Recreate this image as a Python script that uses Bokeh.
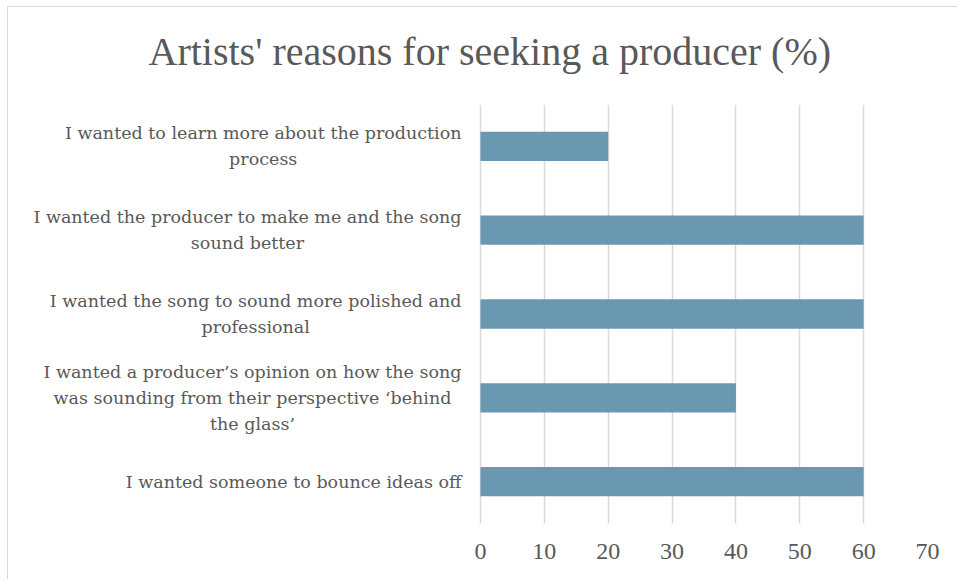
from bokeh.plotting import figure
from bokeh.models import FactorRange, ColumnDataSource, FixedTicker, Range1d, Title
from bokeh.core.properties import value
from bokeh.embed import file_html
from bokeh.resources import INLINE

reasons = [
    "I wanted to learn more about the production\nprocess",
    "I wanted the producer to make me and the song\nsound better",
    "I wanted the song to sound more polished and\nprofessional",
    "I wanted a producer\u2019s opinion on how the song\nwas sounding from their perspective \u2018behind\nthe glass\u2019",
    "I wanted someone to bounce ideas off",
]
percent = [20, 60, 60, 40, 60]
x_ticks = [0, 10, 20, 30, 40, 50, 60, 70]

TEXT = "#595959"
FONT = "DejaVu Serif"

# layout (pixels)
W, H = 950, 573
LABEL_W = 472          # space left of the value 0 used by category labels
RIGHT = 31
BAR_W = W - LABEL_W - RIGHT
x_max = 70
x_min = -x_max * LABEL_W / BAR_W   # extend frame leftwards to hold the labels

factors = list(reversed(reasons))
src = ColumnDataSource(dict(reason=reasons, pct=percent))

p = figure(
    width=W, height=H,
    y_range=FactorRange(factors=factors),
    x_range=Range1d(x_min, x_max),
    output_backend="svg", toolbar_location=None,
    min_border_left=0, min_border_right=RIGHT,
    min_border_top=97, min_border_bottom=57,
    title="Artists' reasons for seeking a producer (%)",
)
p.styles = {
    "border-left": "1px solid #d9d9d9",
    "border-top": "1px solid #d9d9d9",
    "margin-left": "7px",
    "margin-top": "6px",
}

p.hbar(y="reason", right="pct", left=0, height=0.35, source=src,
       fill_color="#6A98B0", line_color=None)

p.text(x=0, y="reason", text="reason", source=src,
       x_offset=-19, anchor="center_right", text_align="center",
       text_baseline="middle", text_font=value(FONT),
       text_font_size=value("17.5px"), text_color=TEXT,
       text_line_height=1.3)

p.title.text_font = "Liberation Serif"
p.title.text_font_size = "40px"
p.title.text_font_style = "normal"
p.title.text_color = TEXT
p.title.align = "left"
p.title.offset = 140
p.title.standoff = 10

# spacer between title and plot area
p.add_layout(Title(text=" ", text_font_size="2px", standoff=22), "above")

p.outline_line_color = None
p.ygrid.grid_line_color = None
p.xgrid.grid_line_color = "#d9d9d9"
p.xgrid.grid_line_width = 1.5
p.xaxis.ticker = FixedTicker(ticks=x_ticks)
p.yaxis.visible = False

p.xaxis.axis_line_color = None
p.xaxis.major_tick_line_color = None
p.xaxis.minor_tick_line_color = None
p.xaxis.major_label_text_font = "Liberation Serif"
p.xaxis.major_label_text_color = TEXT
p.xaxis.major_label_text_font_size = "24px"
p.xaxis.major_label_standoff = 14

open("out.html", "w").write(file_html(p, INLINE))
